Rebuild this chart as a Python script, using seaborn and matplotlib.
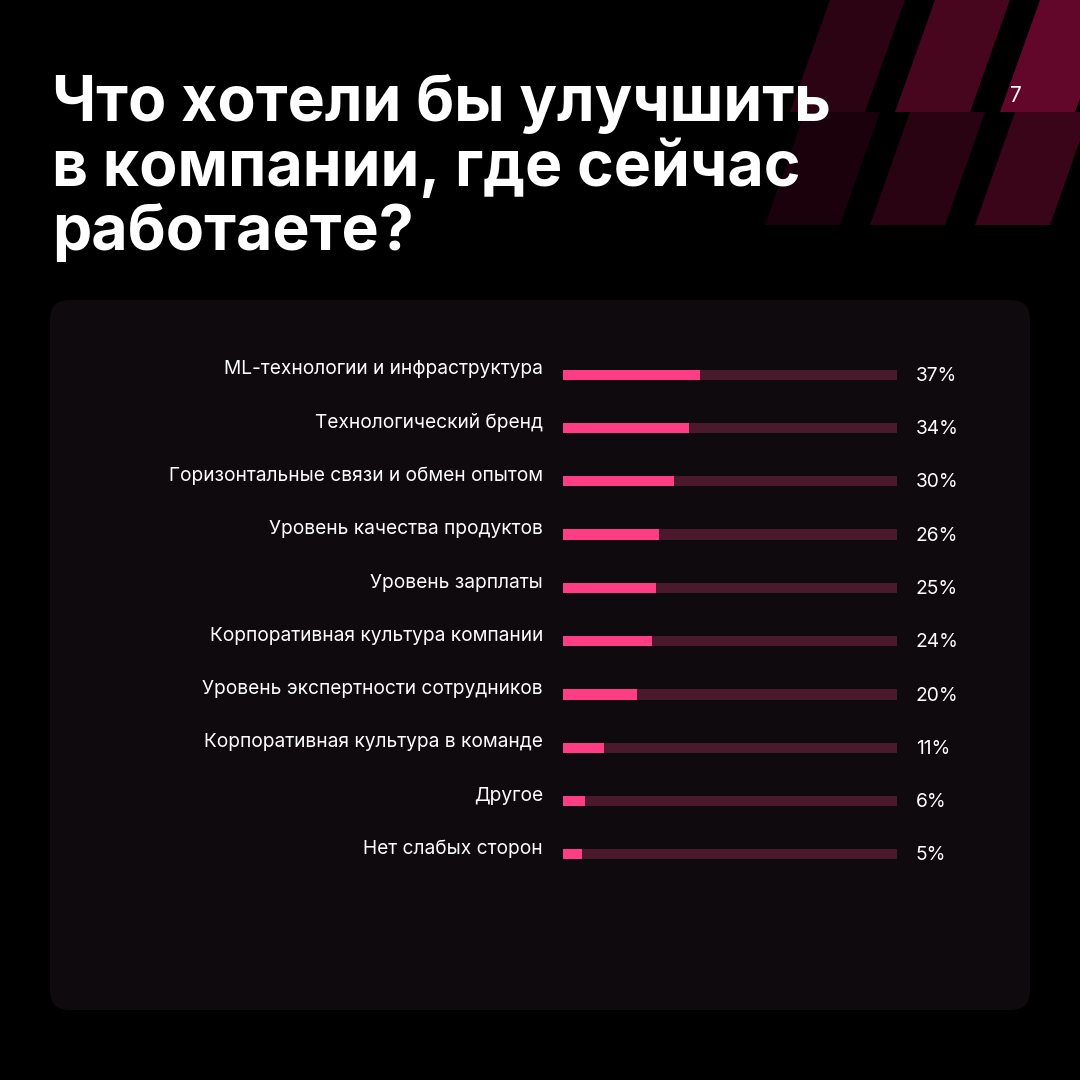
import matplotlib
matplotlib.use("Agg")
import matplotlib.pyplot as plt
from matplotlib.patches import FancyBboxPatch, Polygon
import numpy as np
import pandas as pd
import seaborn as sns

categories = [
    "ML-технологии и инфраструктура",
    "Технологический бренд",
    "Горизонтальные связи и обмен опытом",
    "Уровень качества продуктов",
    "Уровень зарплаты",
    "Корпоративная культура компании",
    "Уровень экспертности сотрудников",
    "Корпоративная культура в команде",
    "Другое",
    "Нет слабых сторон",
]
values = [37, 34, 30, 26, 25, 24, 20, 11, 6, 5]
track_max = 90

sns.set_theme(style="white")
plt.rcParams["font.family"] = ["Inter", "DejaVu Sans"]

fig = plt.figure(figsize=(10.8, 10.8), dpi=100)
fig.patch.set_facecolor("black")

# decorative stripes top-right
for row, (y0, y1) in enumerate([(0, 112), (112, 225)]):
    for k in range(5):
        xb = 790 + k * 105 - row * 25
        shade = [0.25, 0.4, 0.55, 0.75, 0.95][k] * (0.6 if row else 1.0)
        pts = [(xb, y1), (xb + 75, y1), (xb + 115, y0), (xb + 40, y0)]
        pts = [(x / 1080, 1 - y / 1080) for x, y in pts]
        fig.patches.append(Polygon(pts, closed=True, transform=fig.transFigure, zorder=-2,
                                   facecolor=(0.7, 0.05, 0.3), alpha=shade, lw=0))

fig.text(52 / 1080, 1 - 74 / 1080, "Что хотели бы улучшить\nв компании, где сейчас\nработаете?",
         color="white", fontsize=45, fontweight="bold", va="top", ha="left",
         linespacing=1.1, transform=fig.transFigure)
fig.text(1016 / 1080, 1 - 96 / 1080, "7", color="white", fontsize=15, ha="center", va="center")

panel = FancyBboxPatch((50 / 1080, 1 - 1010 / 1080), 980 / 1080, 710 / 1080,
                       boxstyle="round,pad=0,rounding_size=0.018", transform=fig.transFigure,
                       facecolor="#0f0a0d", edgecolor="none", zorder=-1)
fig.patches.append(panel)

ax = fig.add_axes([563 / 1080, 1 - 881 / 1080, 334 / 1080, 533 / 1080])
ax.set_facecolor("none")
df = pd.DataFrame({"cat": categories, "val": values, "track": [track_max] * len(values)})
sns.barplot(data=df, y="cat", x="track", color="#4a1a2c", width=0.19, ax=ax, saturation=1, linewidth=0)
sns.barplot(data=df, y="cat", x="val", color="#ff3d85", width=0.19, ax=ax, saturation=1, linewidth=0)
ax.set_xlim(0, track_max)
ax.set_ylim(len(categories) - 0.5, -0.5)
ax.axis("off")

for i, (c, v) in enumerate(zip(categories, values)):
    ax.text(-20 / 334 * track_max, i - 0.1, c, color="white", fontsize=13.8, ha="right", va="center")
    ax.text(track_max + 19 / 334 * track_max, i + 0.02, f"{v}%", color="white", fontsize=13.8,
            ha="left", va="center")

fig.savefig("out.png", dpi=100, facecolor="black")
